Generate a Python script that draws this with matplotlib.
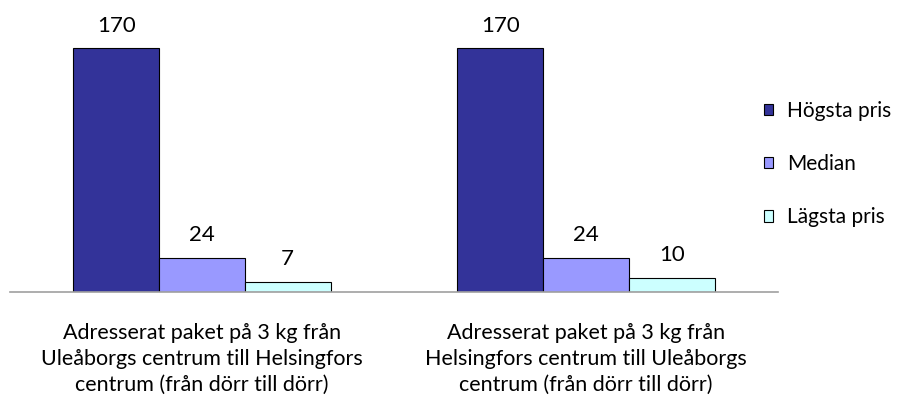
import matplotlib
matplotlib.use("Agg")
import matplotlib.pyplot as plt
import numpy as np
from matplotlib.patches import Patch

categories = ["Adresserat paket på 3 kg från\nUleåborgs centrum till Helsingfors\ncentrum (från dörr till dörr)",
              "Adresserat paket på 3 kg från\nHelsingfors centrum till Uleåborgs\ncentrum (från dörr till dörr)"]
series_names = ["Högsta pris", "Median", "Lägsta pris"]
hogsta = [170, 170]
median = [24, 24]
lagsta = [7, 10]
colors = ["#333399", "#9999FF", "#CCFFFF"]

plt.rcParams['font.family'] = ['Lato', 'DejaVu Sans']

fig = plt.figure(figsize=(8.97, 4.04), dpi=100)
W, H = 897, 404
ax = fig.add_axes([10 / W, 1 - 292 / H, (778 - 10) / W, (292 - 5) / H])

x = np.arange(len(categories))
bw = 0.2233
vals = [hogsta, median, lagsta]
for i, (name, v, c) in enumerate(zip(series_names, vals, colors)):
    pos = x + (i - 1) * bw
    bars = ax.bar(pos, v, width=bw, color=c, edgecolor="black", linewidth=0.8, label=name)
    for b, val in zip(bars, v):
        ax.annotate(str(val), (b.get_x() + b.get_width() / 2, val), xytext=(0, 9),
                    textcoords="offset points", ha="center", va="bottom", fontsize=16)

ax.set_xlim(-0.5, 1.5)
ax.set_ylim(0, 200)
for s in ["top", "right", "left"]:
    ax.spines[s].set_visible(False)
ax.spines["bottom"].set_color("#a0a0a0")
ax.spines["bottom"].set_linewidth(1.2)
ax.set_yticks([])
ax.set_xticks(x)
ax.set_xticklabels(categories, fontsize=15.5, linespacing=1.4)
ax.tick_params(axis="x", length=0, pad=22)

handles = [Patch(facecolor=c, edgecolor="black", linewidth=0.8) for c in colors]
leg = fig.legend(handles, series_names, loc="center left", bbox_to_anchor=(764 / W, 1 - 164 / H),
                 frameon=False, fontsize=15, handlelength=0.45, handleheight=0.45,
                 handletextpad=0.65, labelspacing=1.6, borderpad=0, borderaxespad=0)

fig.savefig("out.png", dpi=100)
